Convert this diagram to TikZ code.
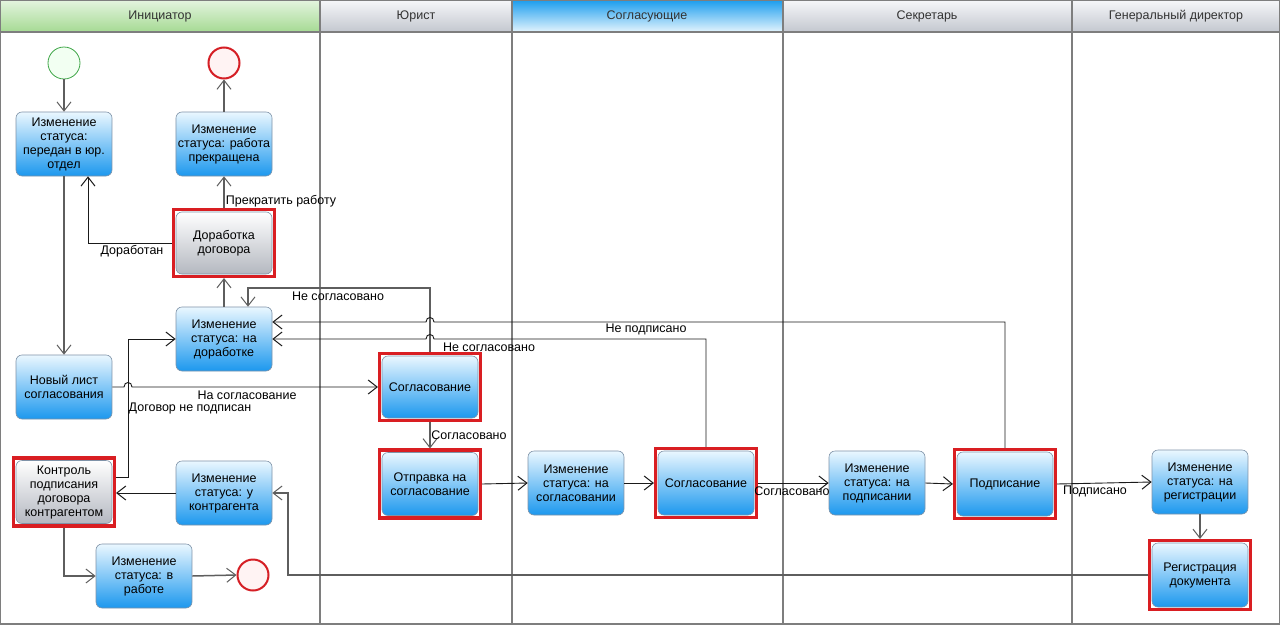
\documentclass[tikz,border=0pt]{standalone}
\usepackage{fontspec}
\setmainfont{Liberation Sans}
\usetikzlibrary{arrows.meta,fit,calc}
\definecolor{lanegray}{HTML}{7E7E7E}
\definecolor{boxborder}{HTML}{7F93A8}
\definecolor{boxtop}{HTML}{EAF7FF}
\definecolor{boxbot}{HTML}{1C98EE}
\definecolor{gboxbot}{HTML}{B4B8C0}
\definecolor{framered}{HTML}{D91E22}
\definecolor{startgreen}{HTML}{3FA648}
\definecolor{startfill}{HTML}{F2FFF2}
\definecolor{endred}{HTML}{D51F25}
\definecolor{endfill}{HTML}{FFF3F3}
\definecolor{flowblack}{HTML}{1A1A1A}
\definecolor{flowgray}{HTML}{5E5E5E}
\definecolor{hgreenT}{HTML}{E4F4DF}
\definecolor{hgreenB}{HTML}{A5DA93}
\definecolor{hgrayT}{HTML}{F6F7F9}
\definecolor{hgrayB}{HTML}{C3C7CF}
\definecolor{hblueT}{HTML}{1B9DEE}
\definecolor{hblueB}{HTML}{E4F4FD}
\newcommand\dfont{\fontsize{12.5}{14}\selectfont}
\begin{document}
\begin{tikzpicture}[x=1pt,y=-1pt,
  lane/.style={draw=lanegray, line width=1.6pt},
  box/.style={rounded corners=6pt, draw=boxborder, line width=0.6pt, top color=boxtop, bottom color=boxbot, minimum width=96pt, minimum height=64pt, align=center, inner sep=2pt, font=\dfont},
  gbox/.style={box, top color=white, bottom color=gboxbot},
  redframe/.style={draw=framered, line width=3.5pt, inner sep=2pt},
  startev/.style={circle, draw=startgreen, fill=startfill, minimum size=32pt, inner sep=0pt, line width=0.8pt},
  endev/.style={circle, draw=endred, fill=endfill, minimum size=31pt, inner sep=0pt, line width=2pt},
  flow/.style={draw=flowblack, line width=0.9pt, -{Straight Barb[length=9pt,width=14pt,line width=1pt]}},
  gflow/.style={flow, draw=flowgray, line width=1.5pt},
  lab/.style={font=\dfont, inner sep=1pt, text=black},
  head/.style={font=\dfont, text=black!80}
]
\useasboundingbox (0,0) rectangle (1280,624);
\fill[white] (0,0) rectangle (1280,624);
% headers
\shade[top color=hgreenT, bottom color=hgreenB] (0,0) rectangle (320,32);
\shade[top color=hgrayT, bottom color=hgrayB] (320,0) rectangle (512,32);
\shade[top color=hblueT, bottom color=hblueB] (512,0) rectangle (783,32);
\shade[top color=hgrayT, bottom color=hgrayB] (783,0) rectangle (1072,32);
\shade[top color=hgrayT, bottom color=hgrayB] (1072,0) rectangle (1280,32);
\draw[startgreen!70, line width=1pt] (0,0.5) -- (320,0.5);
\node[head] (h1) at (160,16) {Инициатор};
\node[head] (h2) at (416,16) {Юрист};
\node[head] (h3) at (647,16) {Согласующие};
\node[head] (h4) at (927,16) {Секретарь};
\node[head] (h5) at (1176,16) {Генеральный директор};
\draw[lane] (0,32) -- (1280,32);
\foreach \x in {320,512,783,1072} \draw[lane] (\x,0) -- (\x,624);
\draw[lane] (0,0) rectangle (1280,624);

% nodes
\node[startev] (s) at (64,63) {};
\node[endev] (e1) at (224,63) {};
\node[box] (A) at (64,144) {Изменение\\статуса:\\передан в юр.\\отдел};
\node[box] (B) at (224,144) {Изменение\\статуса: работа\\прекращена};
\node[gbox, minimum height=62pt] (C) at (224,243) {Доработка\\договора};
\node[redframe, fit=(C)] (Cf) {};
\node[box] (D) at (224,339) {Изменение\\статуса: на\\доработке};
\node[box] (E) at (64,387) {Новый лист\\согласования};
\node[gbox, minimum height=63pt] (F) at (64,492) {Контроль\\подписания\\договора\\контрагентом};
\node[redframe, fit=(F)] (Ff) {};
\node[box] (G) at (224,493) {Изменение\\статуса: у\\контрагента};
\node[box] (H) at (144,576) {Изменение\\статуса: в\\работе};
\node[endev] (e2) at (253,575) {};
\node[box, minimum height=62pt] (I) at (430,387) {Согласование};
\node[redframe, fit=(I)] (If) {};
\node[box, minimum height=63pt] (J) at (430,484) {Отправка на\\согласование};
\node[redframe, fit=(J)] (Jf) {};
\node[box] (K) at (576,483) {Изменение\\статуса: на\\согласовании};
\node[box] (L) at (706,483) {Согласование};
\node[redframe, fit=(L)] (Lf) {};
\node[box] (M) at (877,483) {Изменение\\статуса: на\\подписании};
\node[box] (N) at (1005,484) {Подписание};
\node[redframe, fit=(N)] (Nf) {};
\node[box] (O) at (1200,482) {Изменение\\статуса: на\\регистрации};
\node[box] (P) at (1200,575) {Регистрация\\документа};
\node[redframe, fit=(P)] (Pf) {};

% connectors
\draw[gflow] (s) -- (A);
\draw[gflow] (A) -- (E);
\draw[flow] (Cf.west) -| ([xshift=24pt]A.south);
\draw[gflow] (Cf.north) -- (B.south);
\draw[gflow] (B.north) -- (e1.south);
\draw[gflow] (D.north) -- (Cf.south);
\draw[flow] (E.east) -- (124,387) .. controls (124,381) and (132,381) .. (132,387) -- (If.west);
\draw[flow] ([yshift=15pt]Ff.east) -| (128,339) -- (D.west);
\draw[flow] (G.west) -- (G.west -| Ff.east);
\draw[gflow] (Ff.south) |- (H.west);
\draw[gflow] (H.east) -- (e2.west);
\draw[gflow] (Pf.west) -| (288,493) -- (G.east);
\draw[gflow] (If.north) |- (248,288) -- ([xshift=24pt]D.north);
\draw[gflow] (If.south) -- (Jf.north);
\draw[flow] (Jf.east) -- (K.west);
\draw[flow] (K.east) -- (Lf.west);
\draw[flow] (Lf.north) |- (434,339) .. controls (434,333) and (426,333) .. (426,339) -- (D.east);
\draw[flow] (Nf.north) |- (434,322) .. controls (434,316) and (426,316) .. (426,322) -- ([yshift=17pt]D.east);
\draw[flow] (Lf.east) -- (M.west);
\draw[flow] (M.east) -- (Nf.west);
\draw[flow] (Nf.east) -- (O.west);
\draw[gflow] (O.south) -- (Pf.north);

% labels
\node[lab] (l1) at (281,201) {Прекратить работу};
\node[lab] (l2) at (132,251) {Доработан};
\node[lab] (l3) at (338,296) {Не согласовано};
\node[lab] (l4) at (646,329) {Не подписано};
\node[lab] (l5) at (489,347) {Не согласовано};
\node[lab] (l6) at (247,395) {На согласование};
\node[lab] (l7) at (190,408) {Договор не подписан};
\node[lab] (l8) at (469,435) {Согласовано};
\node[lab] (l9) at (792,491) {Согласовано};
\node[lab] (l10) at (1095,491) {Подписано};
\end{tikzpicture}
\end{document}
